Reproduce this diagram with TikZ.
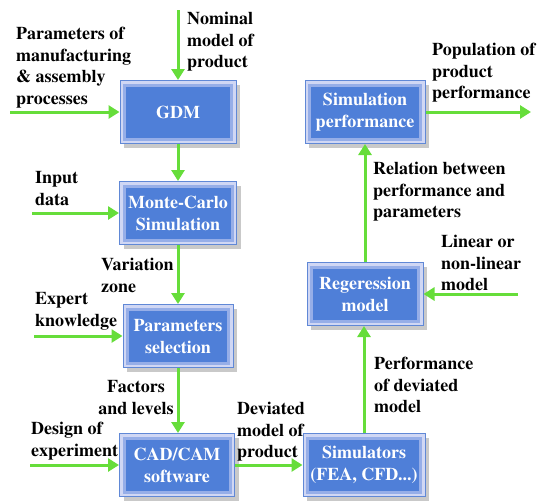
\documentclass[tikz,border=0pt]{standalone}
\usepackage[T1]{fontenc}
\usepackage{mathptmx}
\usepackage{xcolor}
\usetikzlibrary{arrows.meta,shadows}

\definecolor{boxblue}{RGB}{79,127,216}
\definecolor{boxband}{RGB}{208,215,244}
\definecolor{boxmid}{RGB}{150,174,232}
\definecolor{boxedge}{RGB}{96,136,214}
\definecolor{flowgreen}{RGB}{102,221,58}

\tikzset{
  block/.style={draw=boxedge, line width=1pt, fill=boxband,
    minimum width=116pt, minimum height=63pt, inner sep=2pt,
    align=center, text=white, font=\fontsize{18}{22}\selectfont\bfseries,
    drop shadow={shadow xshift=4pt, shadow yshift=-4pt, opacity=0.3, fill=black!70},
    path picture={
      \fill[boxmid] ([shift={(3pt,3pt)}]path picture bounding box.south west)
        rectangle ([shift={(-3pt,-3pt)}]path picture bounding box.north east);
      \fill[boxblue] ([shift={(6pt,6pt)}]path picture bounding box.south west)
        rectangle ([shift={(-6pt,-6pt)}]path picture bounding box.north east);
    }},
  flow/.style={draw=flowgreen, line width=3pt, -{Triangle[length=11pt,width=13pt]}},
  lbl/.style={align=left, inner sep=0pt, anchor=north west,
    font=\fontsize{18}{21.5}\selectfont\bfseries}
}

\begin{document}
\begin{tikzpicture}[x=1pt, y=-1pt]
  \useasboundingbox (0,0) rectangle (537,501);

  % Draw the left column of blocks
  \node[block] (gdm) at (178,112) {GDM};
  \node[block, minimum width=117pt] (mc) at (178,213) {Monte-Carlo\\Simulation};
  \node[block, minimum width=110pt] (ps) at (178,336) {Parameters\\selection};
  \node[block, minimum width=115pt] (cad) at (177,465) {CAD/CAM\\software};

  % Draw the right column of blocks
  \node[block, minimum width=122pt] (sim) at (364,465) {Simulators\\(FEA, CFD...)};
  \node[block] (reg) at (365,294) {Regeression\\model};
  \node[block, minimum width=120pt] (sp) at (365,112) {Simulation\\performance};

  % Free ends of the inputs and the output
  \coordinate (nomIn) at (178,10);
  \coordinate (manIn) at (10,112);
  \coordinate (dataIn) at (32,213);
  \coordinate (expIn) at (34,336);
  \coordinate (doeIn) at (30,465);
  \coordinate (linIn) at (518,294);
  \coordinate (popOut) at (531,112);

  % Inputs
  \draw[flow] (nomIn) -- (gdm.north);
  \draw[flow] (manIn) -- (gdm.west);
  \draw[flow] (dataIn) -- (mc.west);
  \draw[flow] (expIn) -- (ps.west);
  \draw[flow] (doeIn) -- (cad.west);
  \draw[flow] (linIn) -- (reg.east);

  % Chain between the blocks
  \draw[flow] (gdm) -- (mc);
  \draw[flow] (mc) -- (ps);
  \draw[flow] (ps.south) -- (ps.south |- cad.north);
  \draw[flow] (cad) -- (sim);
  \draw[flow] (sim.north) -- (sim.north |- reg.south);
  \draw[flow] (reg) -- (sp);

  % Output
  \draw[flow] (sp.east) -- (popOut);

  % Labels
  \node[lbl] (lblNominal) at (187,12) {Nominal\\model of\\product};
  \node[lbl] (lblParams) at (16,27) {Parameters of\\manufacturing\\\& assembly\\processes};
  \node[lbl] (lblInput) at (35,171) {Input\\data};
  \node[lbl] (lblVar) at (101,258) {Variation\\zone};
  \node[lbl] (lblExpert) at (35,292) {Expert\\knowledge};
  \node[lbl, align=center, anchor=north] (lblFactors) at (136,380) {Factors\\and levels};
  \node[lbl] (lblDoe) at (31,422) {Design of\\experiment};
  \node[lbl] (lblDev) at (237,402) {Deviated\\model of\\product};
  \node[lbl] (lblPerf) at (374,357) {Performance\\of deviated\\model};
  \node[lbl] (lblRel) at (373,162) {Relation between\\performance and\\parameters};
  \node[lbl] (lblLin) at (441,235) {Linear or\\non-linear\\model};
  \node[lbl] (lblPop) at (432,43) {Population of\\product\\performance};
\end{tikzpicture}
\end{document}
